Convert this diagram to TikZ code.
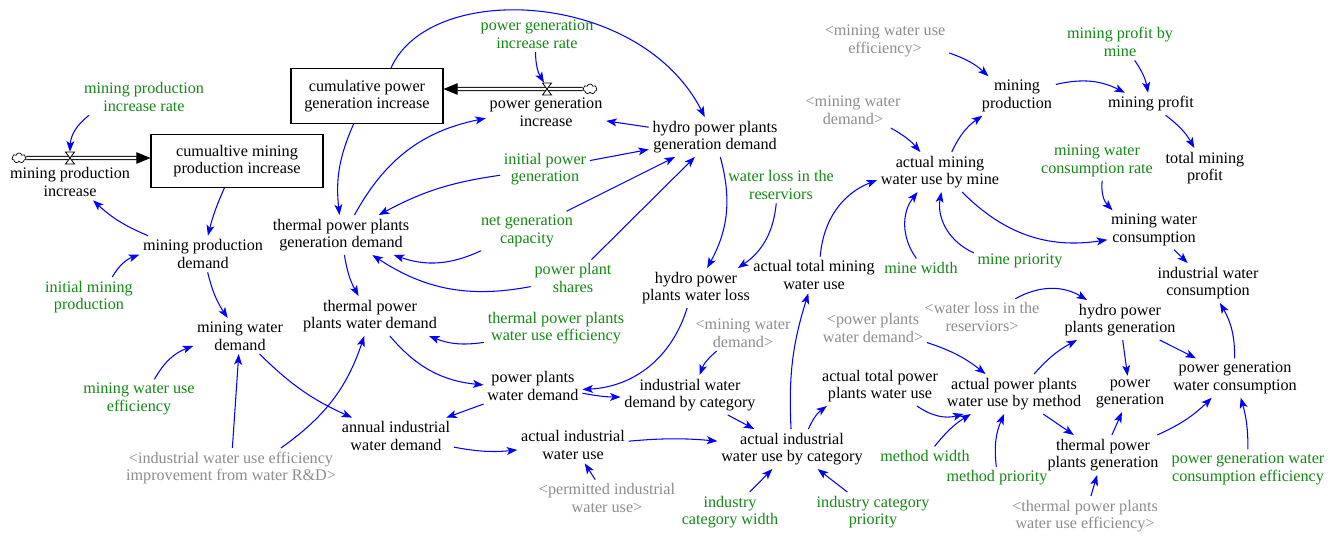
\documentclass[tikz,border=0pt]{standalone}
\usepackage{fontspec}
\setmainfont{Liberation Serif}
\usetikzlibrary{arrows.meta,shapes.symbols}
\definecolor{cgreen}{RGB}{20,135,20}
\definecolor{cgray}{RGB}{140,140,140}
\definecolor{cblue}{RGB}{0,0,255}
\tikzset{
  base/.style={align=center, inner sep=2pt},
  var/.style={base},
  cst/.style={base, text=cgreen},
  shd/.style={base, text=cgray},
  stock/.style={draw, line width=0.6pt, inner sep=0pt, align=center},
  lnk/.style={draw=cblue, line width=0.6pt, -{Stealth[length=6pt,width=4.5pt,inset=1.5pt]}},
  pipe/.style={draw=black, line width=0.5pt, double=white, double distance=1.4pt,
    -{Triangle[length=8pt,width=6.5pt]}},
  flowcloud/.style={cloud, draw, cloud puffs=7, aspect=1.3, inner sep=0pt,
    minimum width=0.28cm, minimum height=0.2cm, line width=0.4pt},
  valvebox/.style={inner sep=0pt, minimum width=0.2cm, minimum height=0.24cm},
  valve/.pic={\draw[fill=white, line width=0.5pt] (-4.5,-6) -- (4.5,-6) -- (-4.5,6) -- (4.5,6) -- cycle;}
}
\begin{document}
\begin{tikzpicture}[x=0.02cm, y=-0.02cm, font=\fontsize{9.2}{10}\selectfont]
\useasboundingbox (0,0) rectangle (1342,535);

% stocks
\node[stock, minimum width=3.44cm, minimum height=1.06cm] (cmpi) at (237,161) {cumualtive mining\\production increase};
\node[stock, minimum width=3.04cm, minimum height=1.1cm] (cpgi) at (367,96) {cumulative power\\generation increase};

% flows
\node[flowcloud] (cl1) at (19,158) {};
\node[flowcloud] (cl2) at (590,89) {};
\node[valvebox] (v1) at (70,158) {};
\node[valvebox] (v2) at (547,89) {};
\draw[pipe] (cl1.east) -- (cmpi.west |- cl1);
\draw[pipe] (cl2.west) -- (cpgi.east |- cl2);
\pic at (v1) {valve};
\pic at (v2) {valve};
\node[var] (mpi) at (70,182) {mining production\\increase};
\node[var] (pgi) at (546,112) {power generation\\increase};

% variables
\node[var] (mpd) at (203,254) {mining production\\demand};
\node[var] (mwd) at (240,336) {mining water\\demand};
\node[var] (tpgd) at (341,235) {thermal power plants\\generation demand};
\node[var] (tpwd) at (370,316) {thermal power\\plants water demand};
\node[var] (aiwd) at (396,436) {annual industrial\\water demand};
\node[var] (hpgd) at (715,137) {hydro power plants\\generation demand};
\node[var] (hpwl) at (696,288) {hydro power\\plants water loss};
\node[var] (ppwd) at (533,386) {power plants\\water demand};
\node[var] (iwdc) at (690,395) {industrial water\\demand by category};
\node[var] (aiu) at (573,445) {actual industrial\\water use};
\node[var] (aiwuc) at (792,449) {actual industrial\\water use by category};
\node[var] (atmwu) at (814,275) {actual total mining\\water use};
\node[var] (mp) at (1017,96) {mining\\production};
\node[var] (mprof) at (1151,104) {mining profit};
\node[var] (amwum) at (940,172) {actual mining\\water use by mine};
\node[var] (tmp) at (1205,168) {total mining\\profit};
\node[var] (mwc) at (1154,230) {mining water\\consumption};
\node[var] (iwc) at (1208,283) {industrial water\\consumption};
\node[var] (hppg) at (1120,320) {hydro power\\plants generation};
\node[var] (atppwu) at (880,386) {actual total power\\plants water use};
\node[var] (appwum) at (1014,394) {actual power plants\\water use by method};
\node[var] (pg) at (1130,394) {power\\generation};
\node[var] (pgwc) at (1235,378) {power generation\\water consumption};
\node[var] (tppg) at (1103,455) {thermal power\\plants generation};

% constants
\node[cst] (mpir) at (144,97) {mining production\\increase rate};
\node[cst] (pgir) at (537,34) {power generation\\increase rate};
\node[cst] (imp) at (89,297) {initial mining\\production};
\node[cst] (mwue) at (139,399) {mining water use\\efficiency};
\node[cst] (ipg) at (545,169) {initial power\\generation};
\node[cst] (ngc) at (527,231) {net generation\\capacity};
\node[cst] (pps) at (573,278) {power plant\\shares};
\node[cst] (tpwue) at (556,328) {thermal power plants\\water use efficiency};
\node[cst] (wlr) at (781,185) {water loss in the\\reserviors};
\node[cst] (mpbm) at (1120,42) {mining profit by\\mine};
\node[cst] (mwcr) at (1097,161) {mining water\\consumption rate};
\node[cst] (mwid) at (921,268) {mine width};
\node[cst] (mpri) at (1020,261) {mine priority};
\node[cst] (icw) at (730,512) {industry\\category width};
\node[cst] (icp) at (873,512) {industry category\\priority};
\node[cst] (mthw) at (925,456) {method width};
\node[cst] (mthp) at (997,478) {method priority};
\node[cst] (pgwce) at (1248,469) {power generation water\\consumption efficiency};

% shadow variables
\node[shd] (srd) at (231,468) {<industrial water use efficiency\\improvement from water R\&D>};
\node[shd] (smwd2) at (743,333) {<mining water\\demand>};
\node[shd] (spiu) at (607,498) {<permitted industrial\\water use>};
\node[shd] (smwue) at (885,41) {<mining water use\\efficiency>};
\node[shd] (smwd1) at (853,110) {<mining water\\demand>};
\node[shd] (swlr) at (982,317) {<water loss in the\\reserviors>};
\node[shd] (sppwd) at (873,328) {<power plants\\water demand>};
\node[shd] (stpwue) at (1085,516) {<thermal power plants\\water use efficiency>};

% links: mining side
\draw[lnk] ([xshift=-1.1cm]mpir.south) to[bend right=25] (v1);
\draw[lnk] (cmpi) to[bend right=5] (mpd);
\draw[lnk] (mpd) to[bend left=10] (mpi);
\draw[lnk] (imp) to[bend left=20] (mpd);
\draw[lnk] (mpd) to[bend right=10] (mwd);
\draw[lnk] (mwue) to[bend left=20] (mwd);
\draw[lnk] (srd) to (mwd);
\draw[lnk] ([xshift=1cm]srd.north) to[bend right=18] (tpwd);
\draw[lnk] (mwd) to[bend right=10] (aiwd);

% links: power side
\draw[lnk] (cpgi) to[bend right=15] (tpgd);
\draw[lnk] (pgir) to[bend right=15] (v2);
\draw[lnk] ([xshift=0.48cm]cpgi.north) .. controls (430,-20) and (640,-10) .. (hpgd);
\draw[lnk] (tpgd) to[bend left=25] (pgi);
\draw[lnk] (hpgd) to (pgi);
\draw[lnk] (ipg) to (hpgd);
\draw[lnk] (ipg) to[bend right=10] (tpgd);
\draw[lnk] (ngc) to (hpgd);
\draw[lnk] (ngc) to[bend left=22] (tpgd);
\draw[lnk] (pps) to (hpgd);
\draw[lnk] (pps) to[bend left=22] (tpgd);
\draw[lnk] (tpgd) to[bend right=10] (tpwd);
\draw[lnk] (tpwue) to[bend left=15] (tpwd);
\draw[lnk] (tpwd) to[bend right=22] (ppwd);
\draw[lnk] (hpgd) to[bend left=22] (hpwl);
\draw[lnk] (wlr) to[bend left=25] (hpwl);
\draw[lnk] (hpwl) to[bend left=35] (ppwd);
\draw[lnk] (ppwd) to (aiwd);
\draw[lnk] (ppwd) to[bend right=5] (iwdc);
\draw[lnk] (smwd2) to[bend right=15] (iwdc);

% links: industrial water use
\draw[lnk] (aiwd) to[bend right=8] (aiu);
\draw[lnk] (spiu) to (aiu);
\draw[lnk] (aiu) to[bend left=5] (aiwuc);
\draw[lnk] (iwdc) to (aiwuc);
\draw[lnk] (icw) to (aiwuc);
\draw[lnk] (icp) to (aiwuc);
\draw[lnk] (aiwuc) to[bend left=10] (atmwu);
\draw[lnk] (aiwuc) to[bend left=15] (atppwu);

% links: mining water use
\draw[lnk] (atmwu) to[bend left=32] (amwum);
\draw[lnk] (smwd1) to[bend left=10] (amwum);
\draw[lnk] (amwum) to[bend left=15] (mp);
\draw[lnk] (smwue) to[bend left=12] (mp);
\draw[lnk] (mp) to[bend left=20] (mprof);
\draw[lnk] (mpbm) to[bend left=12] (mprof);
\draw[lnk] (mprof) to[bend left=12] (tmp);
\draw[lnk] (mwid) to[bend left=37] (amwum);
\draw[lnk] (mpri) to[bend left=38] (amwum);
\draw[lnk] (amwum) to[bend right=27] (mwc);
\draw[lnk] (mwcr) to[bend right=25] (mwc);
\draw[lnk] (mwc) to (iwc);
\draw[lnk] (pgwc) to[bend right=15] (iwc);

% links: power plants water use
\draw[lnk] (swlr) to[bend left=30] (hppg);
\draw[lnk] (sppwd) to[bend left=10] (appwum);
\draw[lnk] (atppwu) to[bend right=25] (appwum);
\draw[lnk] (mthw) to[bend left=10] (appwum);
\draw[lnk] (mthp) to[bend left=15] (appwum);
\draw[lnk] (appwum) to[bend left=10] (hppg);
\draw[lnk] (appwum) to (tppg);
\draw[lnk] (hppg) to (pg);
\draw[lnk] (hppg) to (pgwc);
\draw[lnk] (tppg) to (pg);
\draw[lnk] (tppg) to[bend right=10] (pgwc);
\draw[lnk] (pgwce) to[bend right=8] (pgwc);
\draw[lnk] (stpwue) to (tppg);
\end{tikzpicture}
\end{document}
